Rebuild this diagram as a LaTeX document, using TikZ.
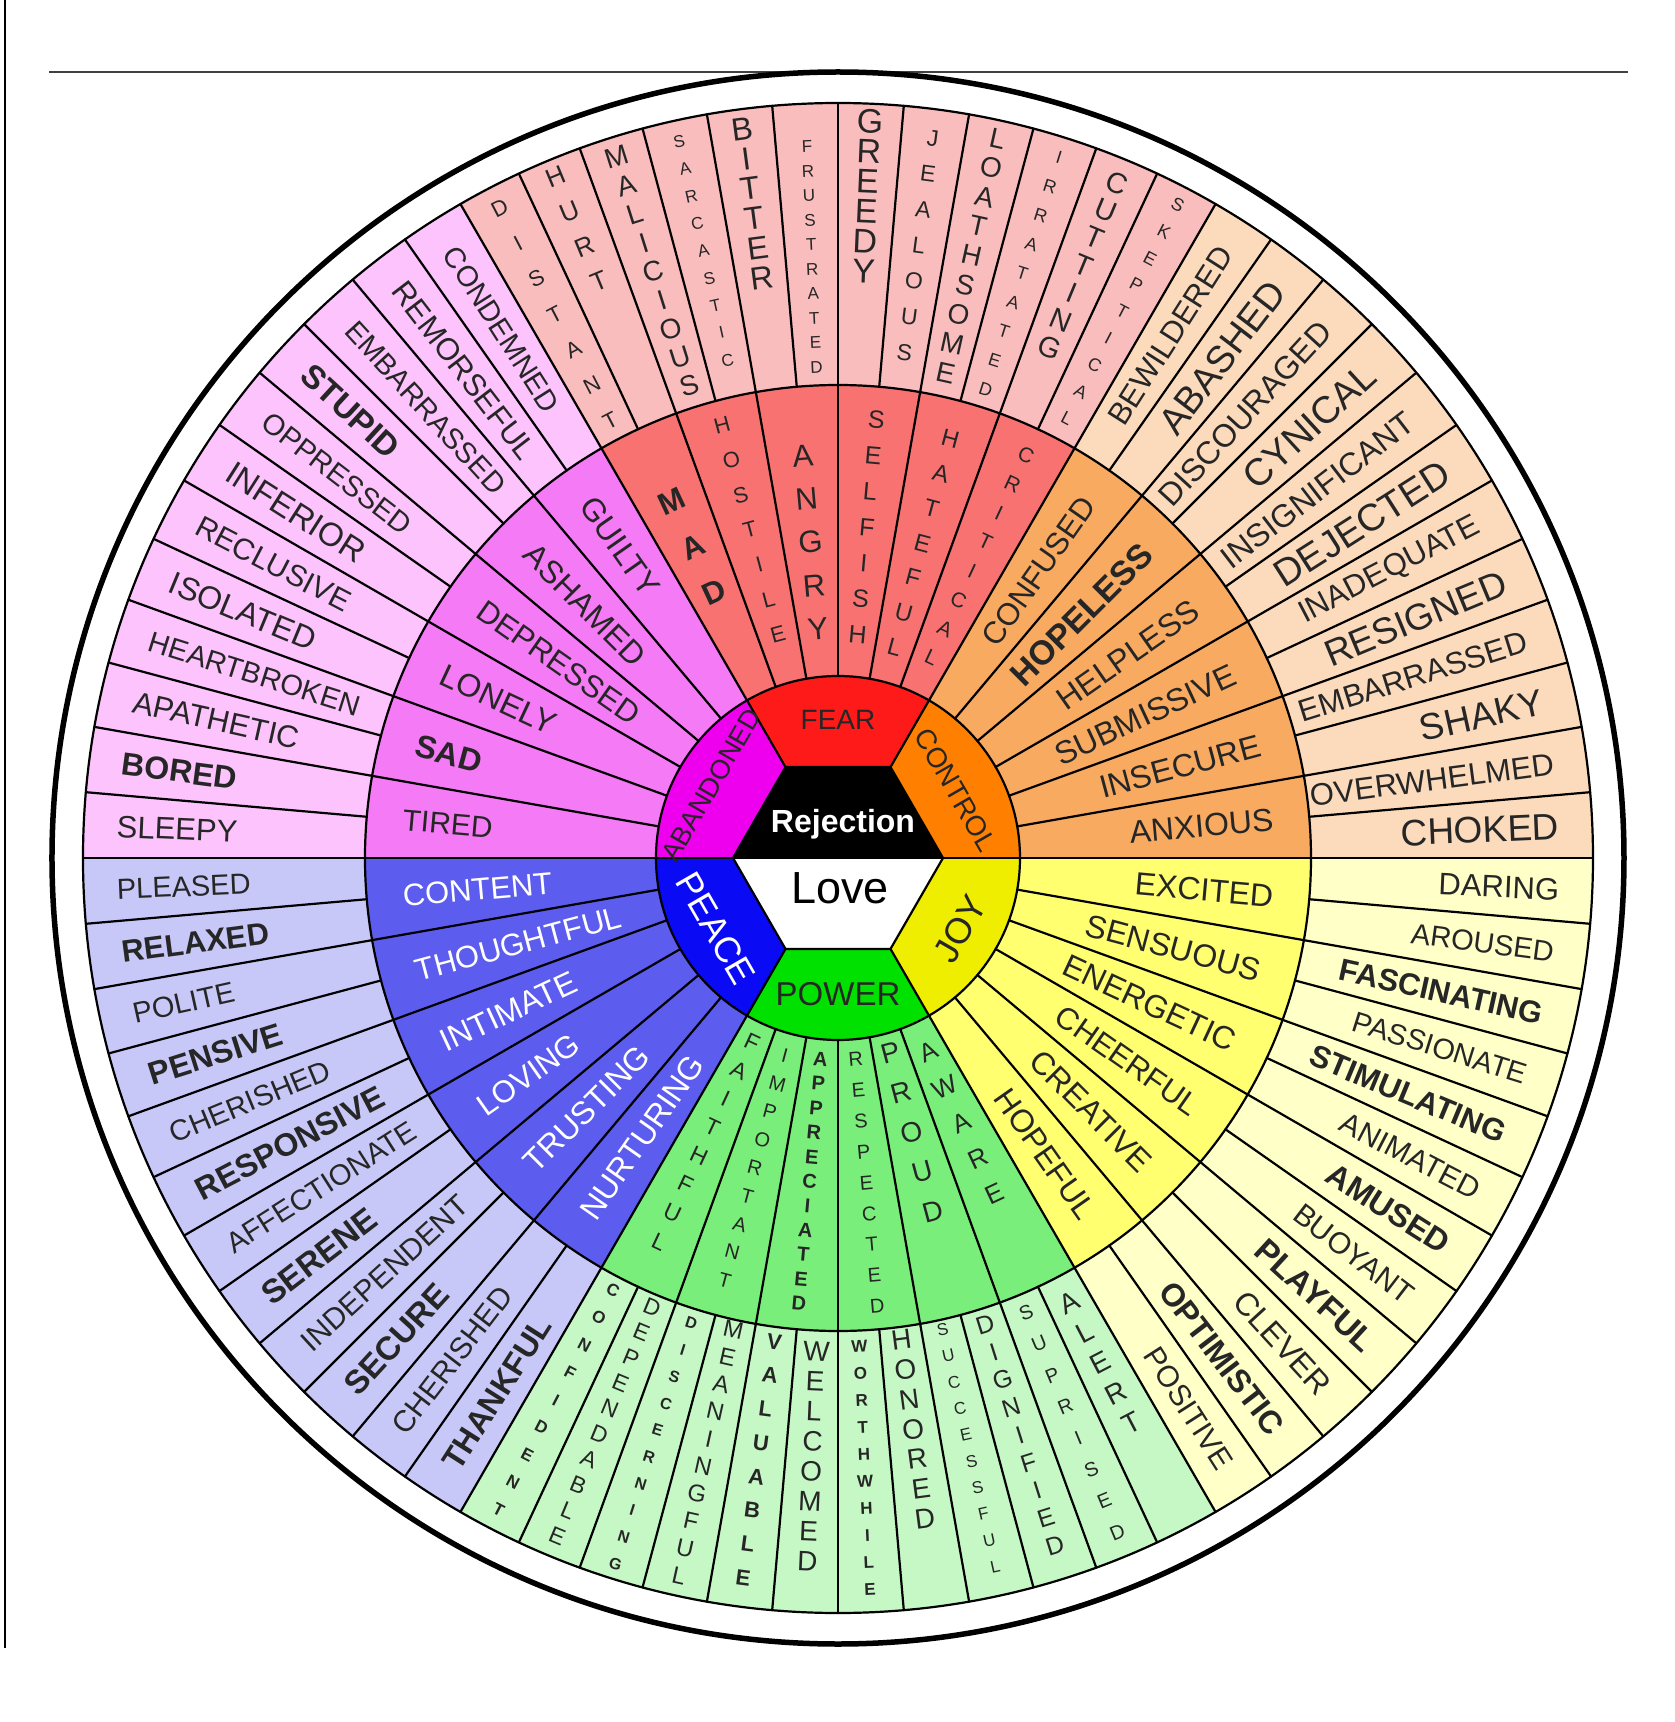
\documentclass[tikz,border=0pt]{standalone}
\usepackage{fontspec}
\setmainfont{Liberation Sans}
\definecolor{iRed}{HTML}{FF1A1A}
\definecolor{iOrange}{HTML}{FF8000}
\definecolor{iYellow}{HTML}{F0EE00}
\definecolor{iGreen}{HTML}{00E100}
\definecolor{iBlue}{HTML}{0A0AF5}
\definecolor{iMag}{HTML}{EE00EE}
\definecolor{mRed}{HTML}{F87272}
\definecolor{mOrange}{HTML}{F8AA60}
\definecolor{mYellow}{HTML}{FFFF70}
\definecolor{mGreen}{HTML}{7AEE7A}
\definecolor{mBlue}{HTML}{5C5CEE}
\definecolor{mMag}{HTML}{F57AF5}
\definecolor{oRed}{HTML}{F9BDBD}
\definecolor{oPeach}{HTML}{FCDBBD}
\definecolor{oYellow}{HTML}{FFFFC8}
\definecolor{oGreen}{HTML}{C6F8C6}
\definecolor{oBlue}{HTML}{C8C8F8}
\definecolor{oPink}{HTML}{FCC3FC}
\definecolor{txtc}{HTML}{262626}
\newcommand\myfs[1]{\fontsize{#1}{#1}\selectfont}
% outer ring words: right side (reading outward) / left side (reading inward)
\newcommand\OR[4]{\node[txt, rotate=#1, anchor=east, font={\myfs{#3}#4}] at (#1:722) {#2};}
\newcommand\OL[4]{\node[txt, rotate={#1-180}, anchor=west, font={\myfs{#3}#4}] at (#1:722) {#2};}
% middle ring words
\newcommand\MR[4]{\node[txt, rotate=#1, anchor=east, font={\myfs{#3}#4}] at (#1:437) {#2};}
\newcommand\ML[4]{\node[txt, rotate={#1-180}, anchor=west, font={\myfs{#3}#4}] at (#1:437) {#2};}
\newcommand\MLw[3]{\node[txt, text=white, rotate={#1-180}, anchor=west, font={\myfs{#3}}] at (#1:437) {#2};}
% stacked letters: angle, first radius, step, rotation, font, letters
\newcommand\ST[6]{\foreach \letr [count=\ii from 0] in {#6} {\node[txt, rotate=#4, font={#5}] at ({#1}:{#2+\ii*(#3)}) {\letr};}}
\tikzset{
  txt/.style={inner sep=0pt, text=txtc},
  seg/.style={line width=2.2pt, draw=black, line cap=round}
}
\begin{document}
\begin{tikzpicture}[x=1pt,y=1pt,line join=round]
\useasboundingbox (-838,-864) rectangle (836,858);
\fill[white] (-838,-864) rectangle (836,858);
% frame lines
\draw[line width=2pt, black] (-833,858) -- (-833,-790);
\draw[line width=2.4pt, black!75] (-789,786) -- (790,786);
% outer circle
\draw[line width=5.5pt] (0,0) circle[radius=786];
% outer ring sectors
\foreach \a/\c in {0/oPeach,60/oRed,120/oPink,180/oBlue,240/oGreen,300/oYellow}{
  \fill[\c] (\a:473) -- (\a:755) arc[start angle=\a, end angle=\a+60, radius=755] -- ({\a+60}:473) arc[start angle=\a+60, end angle=\a, radius=473] -- cycle;}
% middle ring sectors
\foreach \a/\c in {0/mOrange,60/mRed,120/mMag,180/mBlue,240/mGreen,300/mYellow}{
  \fill[\c] (\a:182) -- (\a:473) arc[start angle=\a, end angle=\a+60, radius=473] -- ({\a+60}:182) arc[start angle=\a+60, end angle=\a, radius=182] -- cycle;}
% inner ring sectors
\foreach \a/\c in {0/iOrange,60/iRed,120/iMag,180/iBlue,240/iGreen,300/iYellow}{
  \fill[\c] (\a:105) -- (\a:182) arc[start angle=\a, end angle=\a+60, radius=182] -- ({\a+60}:105) -- cycle;}
% hexagon
\fill[black] (0:105) -- (60:105) -- (120:105) -- (180:105) -- cycle;
\fill[white] (180:105) -- (240:105) -- (300:105) -- (0:105) -- cycle;
\draw[seg] (0:105) -- (60:105) -- (120:105) -- (180:105) -- (240:105) -- (300:105) -- cycle;
\draw[seg] (180:105) -- (0:105);
% dividers
\foreach \a in {0,5,...,355} \draw[seg] (\a:473) -- (\a:755);
\foreach \a in {0,10,...,350} \draw[seg] (\a:182) -- (\a:473);
\foreach \a in {0,60,...,300} \draw[seg] (\a:105) -- (\a:182);
\draw[seg] (0,0) circle[radius=755];
\draw[seg] (0,0) circle[radius=473];
\draw[seg] (0,0) circle[radius=182];
% centre labels
\node[txt, text=white, font={\myfs{32}\bfseries}] at (5,34) {Rejection};
\node[txt, text=black, font={\myfs{45}}] at (2,-30) {Love};
\node[txt, font={\myfs{28}}] at (90:138) {FEAR};
\node[txt, font={\myfs{33}}] at (270:136) {POWER};
\node[txt, rotate=-60, font={\myfs{28}}] at (30:136) {CONTROL};
\node[txt, rotate=60, font={\myfs{36}}] at (-30:141) {JOY};
\node[txt, text=white, rotate=-60, font={\myfs{36}}] at (210:141) {PEACE};
\node[txt, rotate=60, font={\myfs{27}}] at (150:146) {ABANDONED};
% middle ring: orange
\MR{5}{ANXIOUS}{32}{}
\MR{15}{INSECURE}{32}{}
\MR{25}{SUBMISSIVE}{32}{}
\MR{35}{HELPLESS}{32}{}
\MR{45}{HOPELESS}{34}{\bfseries}
\MR{55}{CONFUSED}{31}{}
% middle ring: yellow
\MR{305}{HOPEFUL}{32}{}
\MR{315}{CREATIVE}{32}{}
\MR{325}{CHEERFUL}{31}{}
\MR{335}{ENERGETIC}{32}{}
\MR{345}{SENSUOUS}{32}{}
\MR{355}{EXCITED}{32}{}
% middle ring: magenta
\ML{125}{GUILTY}{32}{}
\ML{135}{ASHAMED}{32}{}
\ML{145}{DEPRESSED}{31}{}
\ML{155}{LONELY}{32}{}
\ML{165}{SAD}{32}{\bfseries}
\ML{175}{TIRED}{30}{}
% middle ring: blue
\MLw{185}{CONTENT}{31}
\MLw{195}{THOUGHTFUL}{31}
\MLw{205}{INTIMATE}{32}
\MLw{215}{LOVING}{31}
\MLw{225}{TRUSTING}{32}
\MLw{235}{NURTURING}{32}
% middle ring: red (stacked)
\ST{65}{445}{-32}{-25}{\myfs{21}}{C,R,I,T,I,C,A,L}
\ST{75}{434}{-36}{-15}{\myfs{24}}{H,A,T,E,F,U,L}
\ST{85}{440}{-36}{-5}{\myfs{25}}{S,E,L,F,I,S,H}
\ST{95}{404}{-43.5}{5}{\myfs{31}}{A,N,G,R,Y}
\ST{105}{448}{-36}{15}{\myfs{22}}{H,O,S,T,I,L,E}
\ST{115}{393}{-50}{25}{\myfs{31}\bfseries}{M,A,D}
% middle ring: green (stacked)
\ST{245}{203}{31.5}{-25}{\myfs{23}}{F,A,I,T,H,F,U,L}
\ST{255}{205}{29}{-15}{\myfs{20}}{I,M,P,O,R,T,A,N,T}
\ST{265}{202}{24.5}{-5}{\myfs{20}\bfseries}{A,P,P,R,E,C,I,A,T,E,D}
\ST{275}{202}{31}{5}{\myfs{20}}{R,E,S,P,E,C,T,E,D}
\ST{285}{202}{41}{15}{\myfs{28}}{P,R,O,U,D}
\ST{295}{214}{39}{25}{\myfs{26}}{A,W,A,R,E}
% outer ring: peach
\OR{2.5}{CHOKED}{37}{}
\OR{7.5}{OVERWHELMED}{31}{}
\OR{12.5}{SHAKY}{37}{}
\OR{17.5}{EMBARRASSED}{31}{}
\OR{22.5}{RESIGNED}{37}{}
\OR{27.5}{INADEQUATE}{31}{}
\OR{32.5}{DEJECTED}{38}{}
\OR{37.5}{INSIGNIFICANT}{32}{}
\OR{42.5}{CYNICAL}{38}{}
\OR{47.5}{DISCOURAGED}{32}{}
\OR{52.5}{ABASHED}{38}{}
\OR{57.5}{BEWILDERED}{31}{}
% outer ring: yellow
\OR{357.5}{DARING}{31}{}
\OR{352.5}{AROUSED}{29}{}
\OR{347.5}{FASCINATING}{31}{\bfseries}
\OR{342.5}{PASSIONATE}{29}{}
\OR{337.5}{STIMULATING}{31}{\bfseries}
\OR{332.5}{ANIMATED}{30}{}
\OR{327.5}{AMUSED}{32}{\bfseries}
\OR{322.5}{BUOYANT}{30}{}
\OR{317.5}{PLAYFUL}{33}{\bfseries}
\OR{312.5}{CLEVER}{32}{}
\OR{307.5}{OPTIMISTIC}{32}{\bfseries}
\OR{302.5}{POSITIVE}{30}{}
% outer ring: pink
\OL{122.5}{CONDEMNED}{29}{}
\OL{127.5}{REMORSEFUL}{31}{}
\OL{132.5}{EMBARRASSED}{29}{}
\OL{137.5}{STUPID}{33}{\bfseries}
\OL{142.5}{OPPRESSED}{29}{}
\OL{147.5}{INFERIOR}{33}{}
\OL{152.5}{RECLUSIVE}{30}{}
\OL{157.5}{ISOLATED}{32}{}
\OL{162.5}{HEARTBROKEN}{29}{}
\OL{167.5}{APATHETIC}{31}{}
\OL{172.5}{BORED}{32}{\bfseries}
\OL{177.5}{SLEEPY}{31}{}
% outer ring: blue
\OL{182.5}{PLEASED}{29}{}
\OL{187.5}{RELAXED}{31}{\bfseries}
\OL{192.5}{POLITE}{29}{}
\OL{197.5}{PENSIVE}{32}{\bfseries}
\OL{202.5}{CHERISHED}{29}{}
\OL{207.5}{RESPONSIVE}{32}{\bfseries}
\OL{212.5}{AFFECTIONATE}{29}{}
\OL{217.5}{SERENE}{33}{\bfseries}
\OL{222.5}{INDEPENDENT}{30}{}
\OL{227.5}{SECURE}{33}{\bfseries}
\OL{232.5}{CHERISHED}{30}{}
\OL{237.5}{THANKFUL}{32}{\bfseries}
% outer ring: red (stacked)
\ST{62.5}{736}{-30}{-27.5}{\myfs{18}}{S,K,E,P,T,I,C,A,L}
\ST{67.5}{730}{-29.5}{-22.5}{\myfs{29}}{C,U,T,T,I,N,G}
\ST{72.5}{735}{-30.5}{-17.5}{\myfs{18}}{I,R,R,A,T,A,T,E,D}
\ST{77.5}{737}{-30}{-12.5}{\myfs{28}}{L,O,A,T,H,S,O,M,E}
\ST{82.5}{726}{-36}{-7.5}{\myfs{23}}{J,E,A,L,O,U,S}
\ST{87.5}{737}{-30}{-2.5}{\myfs{34}}{G,R,E,E,D,Y}
\ST{92.5}{712}{-24.5}{2.5}{\myfs{17}}{F,R,U,S,T,R,A,T,E,D}
\ST{97.5}{735}{-30}{7.5}{\myfs{32}}{B,I,T,T,E,R}
\ST{102.5}{734}{-28}{12.5}{\myfs{17}}{S,A,R,C,A,S,T,I,C}
\ST{107.5}{735}{-30}{17.5}{\myfs{28}}{M,A,L,I,C,I,O,U,S}
\ST{112.5}{738}{-38}{22.5}{\myfs{26}}{H,U,R,T}
\ST{117.5}{733}{-40}{27.5}{\myfs{22}}{D,I,S,T,A,N,T}
% outer ring: green (stacked)
\ST{242.5}{487}{31}{-27.5}{\myfs{17}\bfseries}{C,O,N,F,I,D,E,N,T}
\ST{247.5}{486}{27.5}{-22.5}{\myfs{23}}{D,E,P,E,N,D,A,B,L,E}
\ST{252.5}{488}{28}{-17.5}{\myfs{16}\bfseries}{D,I,S,C,E,R,N,I,N,G}
\ST{257.5}{483}{28}{-12.5}{\myfs{24}}{M,E,A,N,I,N,G,F,U,L}
\ST{262.5}{488}{34}{-7.5}{\myfs{22}\bfseries}{V,A,L,U,A,B,L,E}
\ST{267.5}{494}{30}{-2.5}{\myfs{28}}{W,E,L,C,O,M,E,D}
\ST{272.5}{489}{27}{2.5}{\myfs{17}\bfseries}{W,O,R,T,H,W,H,I,L,E}
\ST{277.5}{486}{30}{7.5}{\myfs{28}}{H,O,N,O,R,E,D}
\ST{282.5}{483}{27}{12.5}{\myfs{17}}{S,U,C,C,E,S,S,F,U,L}
\ST{287.5}{489}{29}{17.5}{\myfs{25}}{D,I,G,N,I,F,I,E,D}
\ST{292.5}{492}{34}{22.5}{\myfs{20}}{S,U,P,R,I,S,E,D}
\ST{297.5}{501}{34}{27.5}{\myfs{28}}{A,L,E,R,T}
\end{tikzpicture}
\end{document}
